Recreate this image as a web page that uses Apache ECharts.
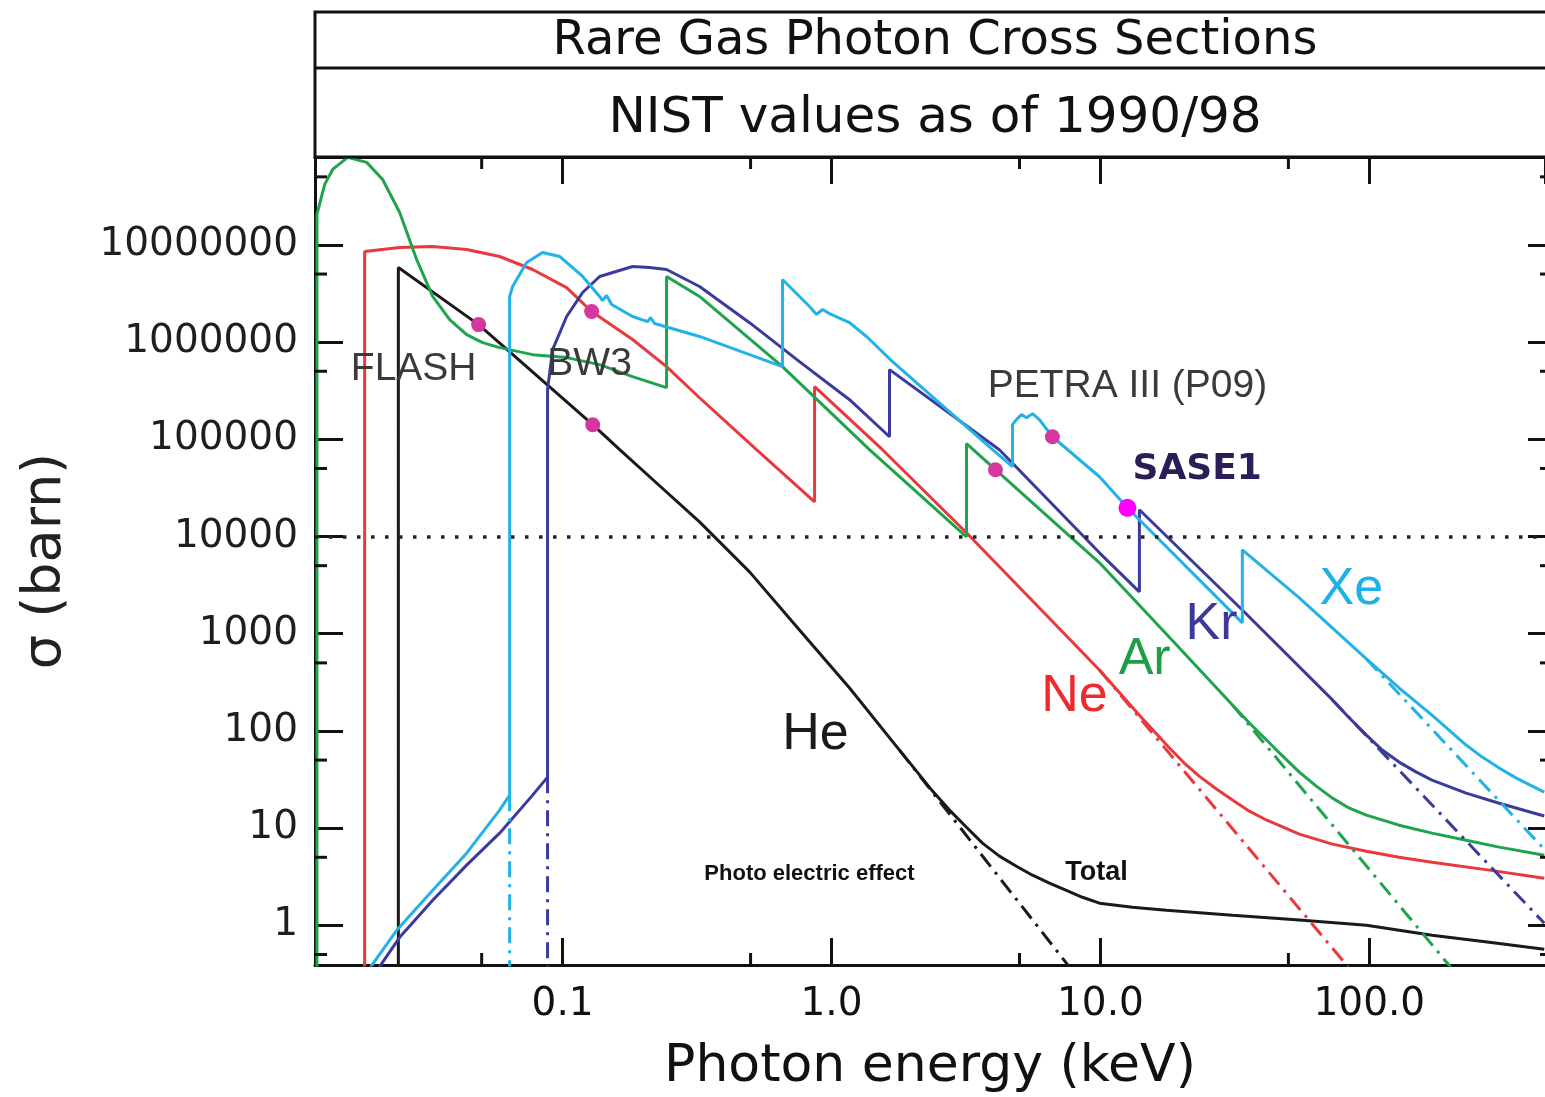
<!DOCTYPE html>
<html>
<head>
<meta charset="utf-8">
<title>Rare Gas Photon Cross Sections</title>
<script src="https://cdn.jsdelivr.net/npm/echarts@6/dist/echarts.min.js"></script>
<style>
  html, body { margin: 0; padding: 0; background: #fff; }
  #main { width: 1545px; height: 1097px; }
</style>
</head>
<body>
<div id="main"></div>
<script>
// photon energy (keV) vs cross section (barn)

// axis ticks
const xTickValues = [0.1, 1, 10, 100];
const xTickLabels = ['0.1', '1.0', '10.0', '100.0'];
const yTickValues = [1, 10, 100, 1000, 10000, 100000, 1000000, 10000000];
const yTickLabels = ['1', '10', '100', '1000', '10000', '100000', '1000000', '10000000'];
const xMinorTicks = [0.05, 0.5, 5, 50];
const yMinorTicks = [0.5, 5, 50, 500, 5000, 50000, 500000, 5000000, 50000000];

// helium
const heTotal = [[0.0245, 0.3], [0.0245, 5.84e6], [0.0487, 1.51e6], [0.1294, 1.41e5], [0.163, 7.8e4],
  [0.2294, 3.32e4], [0.323, 1.41e4], [0.4956, 4318], [0.76, 1092], [1.167, 276], [1.789, 63.4],
  [2.07, 38.5], [2.375, 24.0], [2.746, 15.3], [3.176, 10.2], [3.641, 6.99], [4.21, 5.14], [4.87, 4.05],
  [5.59, 3.27], [6.46, 2.71], [7.47, 2.29], [8.57, 1.94], [9.92, 1.686], [13.15, 1.532], [17.6, 1.43],
  [30.97, 1.268], [54.9, 1.13], [97.5, 1.0], [171, 0.789], [279, 0.668], [447, 0.566]];
const hePhoto = [[1.789, 63.4], [8.0, 0.32]];

// neon
const neTotal = [[0.01836, 0.3], [0.01836, 8.53e6], [0.02478, 9.38e6], [0.03287, 9.6e6], [0.04396, 8.95e6],
  [0.05831, 7.58e6], [0.07735, 5.57e6], [0.1035, 3.63e6], [0.1282, 2.06e6], [0.182, 1.06e6], [0.2435, 5.58e5],
  [0.323, 2.67e5], [0.526, 7.8e4], [0.865, 2.27e4], [0.865, 3.47e5], [1.547, 7.8e4], [3.176, 1.09e4],
  [9.92, 423], [13.96, 145], [18.06, 66.5], [20.5, 46.6], [23.3, 34.2], [27.0, 25.2], [30.97, 19.4],
  [35.8, 14.9], [41.4, 12.1], [54.9, 8.65], [72.9, 6.83], [97.5, 5.78], [129, 5.01], [171, 4.45],
  [279, 3.69], [447, 3.05]];
const nePhoto = [[9.92, 423], [91.8, 0.271]];

// argon
const arTotal = [[0.0122, 0.3], [0.0122, 2.05e7], [0.01304, 4.18e7], [0.01396, 5.96e7], [0.01588, 7.93e7],
  [0.01868, 7.04e7], [0.02142, 4.7e7], [0.02478, 2.15e7], [0.02865, 7.06e6], [0.03287, 2.94e6],
  [0.03802, 1.7e6], [0.04396, 1.19e6], [0.05041, 9.86e5], [0.05831, 8.75e5], [0.07735, 7.41e5],
  [0.1035, 6.91e5], [0.1373, 5.85e5], [0.182, 4.4e5], [0.2435, 3.39e5], [0.2435, 4.72e6], [0.323, 2.94e6],
  [0.657, 5.58e5], [1.384, 7.8e4], [3.176, 9.91e3], [3.176, 9.0e4], [9.92, 5.35e3], [19.2, 765],
  [30.97, 184], [35.8, 120.3], [44.4, 66.5], [54.9, 37.6], [63.5, 27.0], [72.9, 20.3], [84.3, 16.0],
  [97.5, 13.6], [129, 10.7], [171, 8.86], [229, 7.5], [304, 6.36], [447, 5.26]];
const arPhoto = [[30.97, 184], [216, 0.29]];

// krypton
const krTotal = [[0.02018, 0.328], [0.02478, 0.752], [0.03287, 1.81], [0.04396, 4.15], [0.05831, 8.86],
  [0.07735, 21.8], [0.0879, 33.4], [0.0879, 3.24e5], [0.0918, 8.35e5], [0.1035, 1.83e6], [0.1187, 3.23e6],
  [0.1373, 4.72e6], [0.182, 5.98e6], [0.2106, 5.84e6], [0.2435, 5.57e6], [0.323, 3.72e6], [0.4956, 1.58e6],
  [0.76, 6.28e5], [1.167, 2.55e5], [1.643, 1.06e5], [1.643, 5.2e5], [4.21, 7.8e4], [9.92, 6.78e3],
  [13.96, 2.69e3], [13.96, 1.88e4], [33.7, 1.75e3], [72.9, 208], [84.3, 135.5], [97.5, 90.5], [111.7, 63.4],
  [129, 47.7], [149.6, 37.6], [171, 31.1], [229, 22.9], [304, 18.0], [447, 13.3]];
const krPhoto = [[72.9, 208], [447, 1.05]];
const krEdgeDash = [[0.0879, 33.4], [0.0879, 0.3]];

// xenon
const xeTotal = [[0.01916, 0.361], [0.02415, 0.888], [0.03287, 2.29], [0.04396, 5.51], [0.05831, 15.3],
  [0.06353, 21.8], [0.06353, 2.94e6], [0.06518, 3.72e6], [0.07345, 6.57e6], [0.08428, 8.33e6],
  [0.09746, 7.58e6], [0.1187, 4.72e6], [0.1373, 2.94e6], [0.1408, 2.67e6], [0.1457, 3.01e6], [0.1521, 2.43e6],
  [0.182, 1.83e6], [0.207, 1.62e6], [0.2124, 1.78e6], [0.2198, 1.55e6], [0.323, 1.14e6], [0.657, 5.58e5],
  [0.657, 4.39e6], [0.828, 2.32e6], [0.88, 1.92e6], [0.926, 2.16e6], [0.983, 1.96e6], [1.167, 1.58e6],
  [1.349, 1.14e6], [1.686, 6.28e5], [3.97, 7.8e4], [4.71, 5.21e4], [4.71, 1.41e5], [4.87, 1.59e5],
  [5.09, 1.79e5], [5.31, 1.66e5], [5.59, 1.83e5], [5.93, 1.59e5], [6.63, 1.06e5], [9.92, 4.11e4],
  [12.6, 1.97e4], [33.7, 1.29e3], [33.7, 7.28e3], [54.9, 2.33e3], [97.5, 549], [129, 276], [171, 145],
  [229, 71.4], [263, 53.7], [304, 41.4], [352, 32.6], [447, 23.4]];
const xePhoto = [[97.5, 549], [447, 6.07]];
const xeEdgeDash = [[0.06353, 21.8], [0.06353, 0.3]];

// beamline markers
const beamDots = [[0.0487, 1.51e6], [0.1282, 2.06e6], [0.1294, 1.41e5], [4.07, 4.85e4], [6.63, 1.06e5]];
const sase1Dot = [[12.6, 1.97e4]];

// text annotations, anchored in data coordinates
const notes = [
  { text: 'FLASH', at: [0.02793, 5.2e5], kind: 'facility' },
  { text: 'BW3', at: [0.126, 5.85e5], kind: 'facility' },
  { text: 'PETRA III (P09)', at: [12.6, 3.47e5], kind: 'facility' },
  { text: 'SASE1', at: [22.9, 4.85e4], kind: 'sase' },
  { text: 'He', at: [0.872, 90.5], kind: 'he' },
  { text: 'Ne', at: [8.0, 223], kind: 'ne' },
  { text: 'Ar', at: [14.6, 536], kind: 'ar' },
  { text: 'Kr', at: [25.9, 1230], kind: 'kr' },
  { text: 'Xe', at: [85.7, 2820], kind: 'xe' },
  { text: 'Photo electric effect', at: [0.828, 3.35], kind: 'small' },
  { text: 'Total', at: [9.67, 3.51], kind: 'total' }
];

const colors = { he: '#1a1a1a', ne: '#e8393c', ar: '#1fa34c', kr: '#3b3b9c', xe: '#22b2e6' };
const noteStyles = {
  facility: { color: '#3a3a3a', fontSize: 39, fontFamily: 'Liberation Sans' },
  sase: { color: '#2b1d55', fontSize: 36, fontWeight: 'bold', fontFamily: 'DejaVu Sans' },
  he: { color: '#1a1a1a', fontSize: 52, fontFamily: 'Liberation Sans' },
  ne: { color: '#ee2a2f', fontSize: 52, fontFamily: 'Liberation Sans' },
  ar: { color: '#1e9e45', fontSize: 52, fontFamily: 'Liberation Sans' },
  kr: { color: '#3b3a98', fontSize: 52, fontFamily: 'Liberation Sans' },
  xe: { color: '#1cb2e6', fontSize: 52, fontFamily: 'Liberation Sans' },
  small: { color: '#111', fontSize: 22, fontWeight: 'bold', fontFamily: 'Liberation Sans' },
  total: { color: '#111', fontSize: 27, fontWeight: 'bold', fontFamily: 'Liberation Sans' }
};

const X_MIN = 0.012, X_MAX = 450, Y_MIN = 0.39, Y_MAX = 8e7;
const DASH_DOT = [16, 7, 3, 7];

function solid(name, data, color) {
  return { name, type: 'line', data, symbol: 'none', showSymbol: false, clip: true,
    lineStyle: { color, width: 3 }, z: 3 };
}
function dashDot(name, data, color) {
  return { name, type: 'line', data, symbol: 'none', showSymbol: false, clip: true,
    lineStyle: { color, width: 3, type: DASH_DOT }, z: 3 };
}
function pickLabel(values, labels, v) {
  const i = values.findIndex(t => Math.abs(Math.log10(v / t)) < 0.01);
  return i < 0 ? '' : labels[i];
}

const chart = echarts.init(document.getElementById('main'));

const tickStyle = { color: '#111', width: 3 };

const option = {
  animation: false,
  backgroundColor: '#fff',
  grid: { left: 315, right: 0, top: 157, bottom: 132, containLabel: false, outerBoundsMode: 'none' },
  xAxis: [
    {
      type: 'log', position: 'bottom', min: X_MIN, max: X_MAX,
      axisLine: { show: true, onZero: false, lineStyle: tickStyle },
      axisTick: { show: true, inside: true, length: 27, lineStyle: tickStyle },
      minorTick: { show: false },
      splitLine: { show: false },
      axisLabel: {
        show: true, margin: 20, fontSize: 39, fontFamily: 'DejaVu Sans', color: '#111',
        showMinLabel: false, showMaxLabel: false,
        formatter: v => pickLabel(xTickValues, xTickLabels, v)
      },
      name: 'Photon energy (keV)', nameLocation: 'middle', nameGap: 76,
      nameTextStyle: { fontSize: 52, fontFamily: 'DejaVu Sans', color: '#111' }
    },
    {
      type: 'log', position: 'top', min: X_MIN, max: X_MAX,
      axisLine: { show: true, onZero: false, lineStyle: tickStyle },
      axisTick: { show: true, inside: true, length: 27, lineStyle: tickStyle },
      splitLine: { show: false },
      axisLabel: { show: false }
    }
  ],
  yAxis: [
    {
      type: 'log', position: 'left', min: Y_MIN, max: Y_MAX, splitNumber: 8,
      axisLine: { show: true, onZero: false, lineStyle: tickStyle },
      axisTick: { show: true, inside: true, length: 28, lineStyle: tickStyle },
      splitLine: { show: false },
      axisLabel: {
        show: true, margin: 17, fontSize: 39, fontFamily: 'DejaVu Sans', color: '#1e1e1e',
        showMinLabel: false, showMaxLabel: false,
        formatter: v => pickLabel(yTickValues, yTickLabels, v)
      },
      name: 'σ (barn)', nameLocation: 'middle', nameRotate: 90, nameGap: 242,
      nameTextStyle: { fontSize: 54, fontFamily: 'DejaVu Sans', color: '#222' }
    },
    {
      type: 'log', position: 'right', min: Y_MIN, max: Y_MAX, splitNumber: 8,
      axisLine: { show: false },
      axisTick: { show: true, inside: true, length: 17, lineStyle: tickStyle },
      splitLine: { show: false },
      axisLabel: { show: false }
    }
  ],
  graphic: [
    { type: 'rect', shape: { x: 315, y: 12, width: 1300, height: 145 },
      style: { fill: 'none', stroke: '#111', lineWidth: 3 }, z: 10 },
    { type: 'line', shape: { x1: 315, y1: 68, x2: 1545, y2: 68 },
      style: { stroke: '#111', lineWidth: 3 }, z: 10 },
    { type: 'text', x: 935, y: 42, z: 10,
      style: { text: 'Rare Gas Photon Cross Sections', fontSize: 48, fontFamily: 'DejaVu Sans',
        fill: '#111', align: 'center', verticalAlign: 'middle' } },
    { type: 'text', x: 935, y: 119, z: 10,
      style: { text: 'NIST values as of 1990/98', fontSize: 50, fontFamily: 'DejaVu Sans',
        fill: '#111', align: 'center', verticalAlign: 'middle' } }
  ],
  series: [
    Object.assign(solid('He total', heTotal, colors.he), {
      markLine: {
        symbol: 'none', silent: true, label: { show: false },
        lineStyle: { color: '#222', width: 3.5, type: [3.5, 10.5] },
        data: [{ yAxis: 10000 }]
      }
    }),
    dashDot('He photo', hePhoto, colors.he),
    solid('Ne total', neTotal, colors.ne),
    dashDot('Ne photo', nePhoto, colors.ne),
    solid('Ar total', arTotal, colors.ar),
    dashDot('Ar photo', arPhoto, colors.ar),
    solid('Kr total', krTotal, colors.kr),
    dashDot('Kr photo', krPhoto, colors.kr),
    dashDot('Kr edge', krEdgeDash, colors.kr),
    solid('Xe total', xeTotal, colors.xe),
    dashDot('Xe photo', xePhoto, colors.xe),
    dashDot('Xe edge', xeEdgeDash, colors.xe),
    {
      name: 'x minor ticks', type: 'custom', silent: true, z: 5,
      data: xMinorTicks.map(v => [v, 1]),
      renderItem: (params, api) => {
        const cs = params.coordSys;
        const x = api.coord([api.value(0), 1])[0];
        const bottom = cs.y + cs.height;
        return { type: 'group', children: [
          { type: 'line', shape: { x1: x, y1: bottom, x2: x, y2: bottom - 12 }, style: { stroke: '#111', lineWidth: 3 } },
          { type: 'line', shape: { x1: x, y1: cs.y, x2: x, y2: cs.y + 12 }, style: { stroke: '#111', lineWidth: 3 } }
        ] };
      }
    },
    {
      name: 'y minor ticks', type: 'custom', silent: true, z: 5,
      data: yMinorTicks.map(v => [1, v]),
      renderItem: (params, api) => {
        const cs = params.coordSys;
        const y = api.coord([1, api.value(1)])[1];
        const right = cs.x + cs.width;
        return { type: 'group', children: [
          { type: 'line', shape: { x1: cs.x, y1: y, x2: cs.x + 12, y2: y }, style: { stroke: '#111', lineWidth: 3 } },
          { type: 'line', shape: { x1: right, y1: y, x2: right - 5, y2: y }, style: { stroke: '#111', lineWidth: 3 } }
        ] };
      }
    },
    {
      name: 'beamlines', type: 'scatter', data: beamDots, symbol: 'circle', symbolSize: 15,
      itemStyle: { color: '#d6369f', opacity: 1 }, z: 6
    },
    {
      name: 'SASE1', type: 'scatter', data: sase1Dot, symbol: 'circle', symbolSize: 18,
      itemStyle: { color: '#ff00ff', opacity: 1 }, z: 6
    },
    {
      name: 'notes', type: 'scatter', symbolSize: 0, silent: true, z: 7,
      itemStyle: { opacity: 1 },
      data: notes.map(n => ({
        name: n.text, value: n.at,
        label: Object.assign({ show: true, position: 'inside', formatter: '{b}', opacity: 1 }, noteStyles[n.kind])
      }))
    }
  ]
};

chart.setOption(option);
</script>
</body>
</html>
